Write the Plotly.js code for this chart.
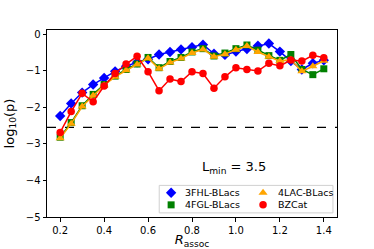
<!DOCTYPE html>
<html>
<head>
<meta charset="utf-8">
<script src="https://cdn.plot.ly/plotly-3.0.1.min.js"></script>
<style>html,body{margin:0;padding:0;background:#fff;}#chart{width:374px;height:249px;}</style>
</head>
<body>
<div id="chart"></div>
<script>
const rAssoc = [0.20,0.25,0.30,0.35,0.40,0.45,0.50,0.55,0.60,0.65,0.70,0.75,0.80,0.85,0.90,0.95,1.00,1.05,1.10,1.15,1.20,1.25,1.30,1.35,1.40];
const fhl3 = [-2.24,-1.90,-1.60,-1.38,-1.20,-1.02,-0.88,-0.77,-0.69,-0.56,-0.49,-0.42,-0.36,-0.29,-0.54,-0.57,-0.48,-0.41,-0.32,-0.26,-0.48,-0.74,-0.97,-0.80,-0.72];
const fgl4 = [-2.82,-2.42,-1.96,-1.65,-1.38,-1.15,-0.97,-0.82,-0.64,-0.92,-0.75,-0.64,-0.49,-0.40,-0.60,-0.52,-0.40,-0.30,-0.44,-0.59,-0.72,-0.56,-0.97,-1.11,-0.95];
const lac4 = [-2.85,-2.45,-1.98,-1.68,-1.40,-1.17,-0.99,-0.83,-0.66,-0.95,-0.78,-0.67,-0.52,-0.42,-0.62,-0.55,-0.43,-0.33,-0.49,-0.62,-0.74,-0.70,-1.02,-0.88,-0.73];
const bzcat = [-2.69,-2.12,-1.62,-1.85,-1.42,-1.08,-0.82,-0.61,-1.03,-1.55,-1.23,-1.30,-1.03,-1.08,-1.48,-1.17,-0.92,-0.97,-1.01,-0.80,-0.87,-0.71,-0.74,-0.58,-0.65];
const threshold = -2.55;
const names = ['3FHL-BLacs','4FGL-BLacs','4LAC-BLacs','BZCat'];
const series = [fhl3, fgl4, lac4, bzcat];
const colors = ['#0000ff','#008000','#ffa500','#ff0000'];
const symbols = ['diamond','square','triangle-up','circle'];
const sizes = [8,7,8,7.5];
// legend placement (fractions of the plot area): column / row for each entry
const legCol = [0,0,1,1];
const legRow = [0,1,0,1];
const legMarkerX = [0.428,0.745];
const legTextX = [0.468,0.790];
const legRowY = [0.130,0.065];
const legBox = {x0:0.387, x1:0.986, y0:0.022, y1:0.169};

const traces = [];
series.forEach((ys,i)=>{
  traces.push({x:rAssoc, y:ys, type:'scatter', mode:'lines+markers', showlegend:false,
    line:{color:colors[i], width:1.5}, marker:{color:colors[i], symbol:symbols[i], size:sizes[i]}});
});
// legend frame
traces.push({x:[legBox.x0,legBox.x1,legBox.x1,legBox.x0,legBox.x0], y:[legBox.y0,legBox.y0,legBox.y1,legBox.y1,legBox.y0],
  xaxis:'x2', yaxis:'y2', type:'scatter', mode:'lines', fill:'toself', fillcolor:'rgba(255,255,255,0.8)',
  line:{color:'#d0d0d0', width:1}, showlegend:false});
const annotations = [{xref:'paper', yref:'y', x:0.763, y:-3.65, text:'L<sub>min</sub> = 3.5', showarrow:false,
    font:{size:13, color:'#000'}}];
names.forEach((n,i)=>{
  traces.push({x:[legMarkerX[legCol[i]]], y:[legRowY[legRow[i]]], xaxis:'x2', yaxis:'y2', type:'scatter', mode:'markers',
    showlegend:false, marker:{color:colors[i], symbol:symbols[i], size:sizes[i]}});
  annotations.push({xref:'paper', yref:'paper', x:legTextX[legCol[i]], y:legRowY[legRow[i]], xanchor:'left', yanchor:'middle',
    text:n, showarrow:false, font:{size:9.5, color:'#000'}});
});

const font = {family:'DejaVu Sans, sans-serif', color:'#000'};
const layout = {
  width:374, height:249,
  margin:{l:47, r:37, t:30, b:32},
  paper_bgcolor:'#fff', plot_bgcolor:'#fff',
  font:Object.assign({size:10}, font),
  showlegend:false,
  xaxis:{range:[0.14,1.46], tickvals:[0.2,0.4,0.6,0.8,1.0,1.2,1.4], ticktext:['0.2','0.4','0.6','0.8','1.0','1.2','1.4'],
    showgrid:false, zeroline:false, showline:true, mirror:true, linecolor:'#000', linewidth:1,
    ticks:'outside', ticklen:3.5, tickcolor:'#000', tickfont:{size:10},
    title:{text:'<i>R</i><sub>assoc</sub>', font:{size:13}, standoff:1}},
  yaxis:{range:[-5,0.11], tickvals:[0,-1,-2,-3,-4,-5], showgrid:false, zeroline:false, showline:true, mirror:true,
    linecolor:'#000', linewidth:1, ticks:'outside', ticklen:3.5, tickcolor:'#000', tickfont:{size:10},
    title:{text:'log<sub>10</sub>(p)', font:{size:13}, standoff:8}},
  xaxis2:{overlaying:'x', range:[0,1], visible:false, fixedrange:true},
  yaxis2:{overlaying:'y', range:[0,1], visible:false, fixedrange:true},
  shapes:[{type:'line', xref:'paper', x0:0, x1:1, yref:'y', y0:threshold, y1:threshold, layer:'below',
    line:{color:'#000', width:1.3, dash:'dash'}}],
  annotations:annotations
};
Plotly.newPlot('chart', traces, layout, {staticPlot:true, displayModeBar:false});
</script>
</body>
</html>
